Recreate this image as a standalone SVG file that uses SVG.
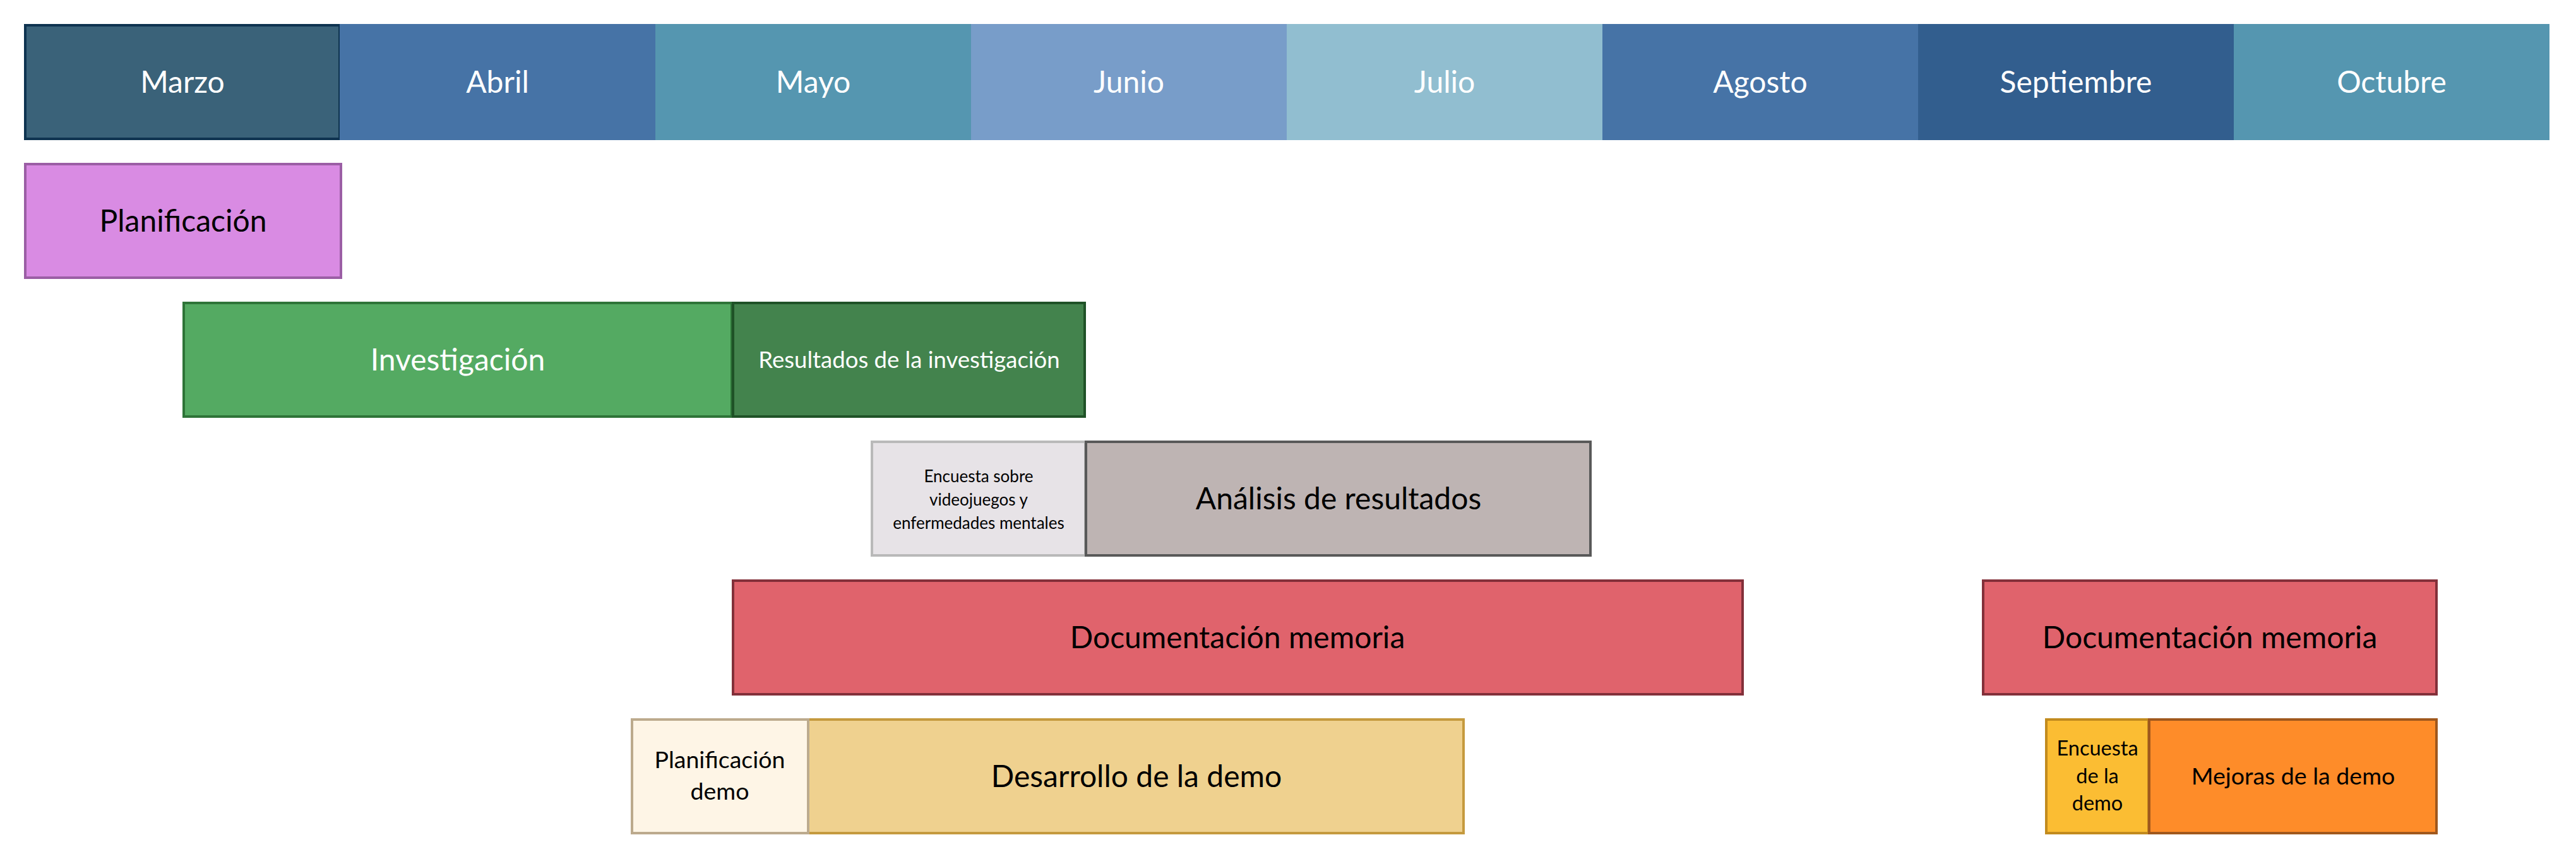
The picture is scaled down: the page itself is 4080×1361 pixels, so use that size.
<svg xmlns="http://www.w3.org/2000/svg" width="4080" height="1361" viewBox="0 0 4080 1361">
<style>
text{font-family:Lato,"Open Sans","Liberation Sans",sans-serif;text-anchor:middle}
.m{fill:#ffffff;font-size:48px}
.w{fill:#ffffff}
.k{fill:#000000}
.b rect{stroke-width:4}
</style>
<rect width="4080" height="1361" fill="#ffffff"/>
<g id="months">
<g id="m-marzo"><rect x="40" y="40" width="498" height="180" fill="#3a6279" stroke="#0e3350" stroke-width="4"/><text class="m" x="289" y="147">Marzo</text></g>
<g id="m-abril"><rect x="538" y="38" width="500" height="184" fill="#4673a6"/><text class="m" x="788" y="147">Abril</text></g>
<g id="m-mayo"><rect x="1038" y="38" width="500" height="184" fill="#5596b0"/><text class="m" x="1288" y="147">Mayo</text></g>
<g id="m-junio"><rect x="1538" y="38" width="500" height="184" fill="#789dc9"/><text class="m" x="1788" y="147">Junio</text></g>
<g id="m-julio"><rect x="2038" y="38" width="500" height="184" fill="#91bed0"/><text class="m" x="2288" y="147">Julio</text></g>
<g id="m-agosto"><rect x="2538" y="38" width="500" height="184" fill="#4673a6"/><text class="m" x="2788" y="147">Agosto</text></g>
<g id="m-septiembre"><rect x="3038" y="38" width="500" height="184" fill="#325e8e"/><text class="m" x="3288" y="147">Septiembre</text></g>
<g id="m-octubre"><rect x="3538" y="38" width="500" height="184" fill="#5596b0"/><text class="m" x="3788" y="147">Octubre</text></g>
</g>
<g id="connectors"></g>
<g class="b">
<g id="planificacion"><rect x="40" y="260" width="500" height="180" fill="#d98be3" stroke="#9b5ea5"/><text class="k" x="290" y="367" font-size="48">Planificación</text></g>
<g id="investigacion"><rect x="291" y="480" width="868" height="180" fill="#54aa62" stroke="#2e7438"/><text class="w" x="725" y="587" font-size="48">Investigación</text></g>
<g id="resultados"><rect x="1161" y="480" width="557" height="180" fill="#43834d" stroke="#1f5227"/><text class="w" x="1440" y="583" font-size="36.5">Resultados de la investigación</text></g>
<g id="encuesta-sobre"><rect x="1381" y="700" width="338" height="180" fill="#e7e3e7" stroke="#b9b9b9"/><text class="k" font-size="26"><tspan x="1550" y="764">Encuesta sobre</tspan><tspan x="1550" y="801">videojuegos y</tspan><tspan x="1550" y="838">enfermedades mentales</tspan></text></g>
<g id="analisis"><rect x="1720" y="700" width="799" height="180" fill="#beb4b3" stroke="#595959"/><text class="k" x="2120" y="807" font-size="48">Análisis de resultados</text></g>
<g id="documentacion-1"><rect x="1161" y="920" width="1599" height="180" fill="#e0636c" stroke="#83303a"/><text class="k" x="1960" y="1027" font-size="48">Documentación memoria</text></g>
<g id="documentacion-2"><rect x="3141" y="920" width="718" height="180" fill="#e0636c" stroke="#83303a"/><text class="k" x="3500" y="1027" font-size="48">Documentación memoria</text></g>
<g id="desarrollo"><rect x="1280" y="1140" width="1038" height="180" fill="#efd18f" stroke="#c59a3e"/><text class="k" x="1800" y="1247" font-size="48">Desarrollo de la demo</text></g>
<g id="planificacion-demo"><rect x="1001" y="1140" width="279" height="180" fill="#fef5e6" stroke="#bcaa8d"/><text class="k" font-size="37.5"><tspan x="1140" y="1217">Planificación</tspan><tspan x="1140" y="1267">demo</tspan></text></g>
<g id="encuesta-demo"><rect x="3241" y="1140" width="162" height="180" fill="#fbbd33" stroke="#c28b1e"/><text class="k" font-size="32.5"><tspan x="3322" y="1197">Encuesta</tspan><tspan x="3322" y="1241">de la</tspan><tspan x="3322" y="1284">demo</tspan></text></g>
<g id="mejoras"><rect x="3404" y="1140" width="455" height="180" fill="#fe8c29" stroke="#a0581d"/><text class="k" x="3632" y="1243" font-size="37.5">Mejoras de la demo</text></g>
</g>
</svg>
